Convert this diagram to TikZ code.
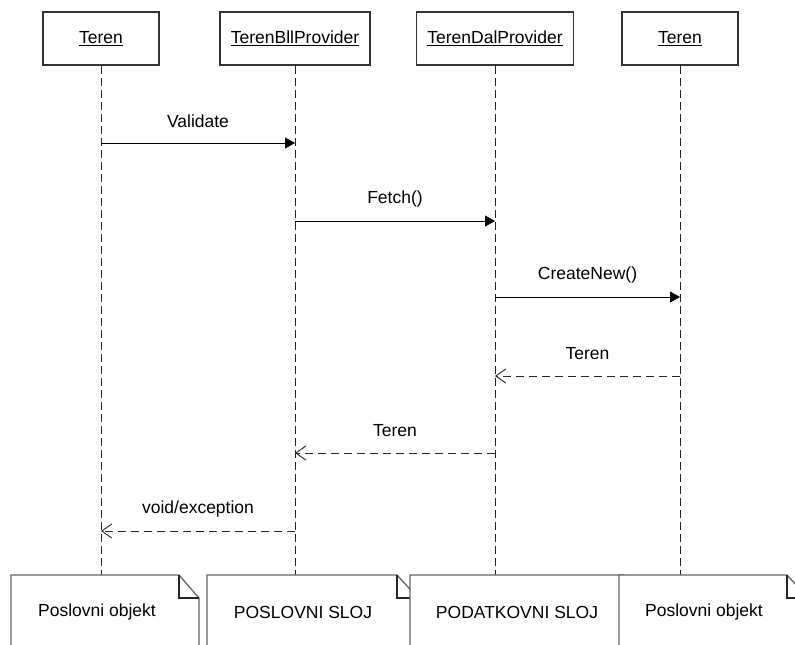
\documentclass[tikz,border=0pt]{standalone}
\usepackage{fontspec}
\setmainfont{Liberation Sans}
\usetikzlibrary{arrows.meta}
\begin{document}
\begin{tikzpicture}[x=1pt,y=-1pt,
  every node/.style={font=\fontsize{17.5}{21}\selectfont},
  objbox/.style={draw=black!80,line width=1.3pt,fill=white,minimum height=53pt,inner sep=0pt},
  lifeline/.style={draw=black!85,line width=0.9pt,dash pattern=on 8pt off 4pt},
  call/.style={draw=black,line width=0.9pt,-{Triangle[length=10pt,width=11pt]}},
  reply/.style={draw=black!85,line width=0.9pt,dash pattern=on 8pt off 5pt,-{Straight Barb[length=10pt,width=14pt]}},
  msg/.style={inner sep=0pt,midway,yshift=22pt},
  note/.style={draw=black!60,line width=1.3pt,fill=white,line join=miter},
  fold/.style={draw=black!85,line width=1.2pt},
  notetext/.style={inner sep=0pt}
]
\useasboundingbox (0,0) rectangle (795,645);
\clip (0,0) rectangle (795,645);

% object heads
\node[objbox,minimum width=116pt] (h1) at (101,38.5) {\underline{Teren}};
\node[objbox,minimum width=150pt] (h2) at (295,38.5) {\underline{TerenBllProvider}};
\node[objbox,minimum width=157pt] (h3) at (495,38.5) {\underline{TerenDalProvider}};
\node[objbox,minimum width=116pt] (h4) at (680,38.5) {\underline{Teren}};

% lifelines
\coordinate (e1) at (101,575);
\coordinate (e2) at (295,575);
\coordinate (e3) at (495,575);
\coordinate (e4) at (680,575);
\draw[lifeline] (h1.south) -- (e1);
\draw[lifeline] (h2.south) -- (e2);
\draw[lifeline] (h3.south) -- (e3);
\draw[lifeline] (h4.south) -- (e4);

% message end points
\coordinate (a1) at (101,143); \coordinate (a2) at (295,143);
\coordinate (b1) at (295,221); \coordinate (b2) at (495,221);
\coordinate (c1) at (495,297); \coordinate (c2) at (680,297);
\coordinate (d1) at (680,376); \coordinate (d2) at (495,376);
\coordinate (f1) at (495,453); \coordinate (f2) at (295,453);
\coordinate (g1) at (295,531); \coordinate (g2) at (101,531);

% calls
\draw[call] (a1) -- (a2) node[msg] (la) {Validate};
\draw[call] (b1) -- (b2) node[msg] (lb) {Fetch()};
\draw[call] (c1) -- (c2) node[msg] (lc) {CreateNew()};
% replies
\draw[reply] (d1) -- (d2) node[msg] (ld) {Teren};
\draw[reply] (f1) -- (f2) node[msg] (lf) {Teren};
\draw[reply] (g1) -- (g2) node[msg] (lg) {void/exception};

% notes
\draw[note] (11,660) -- (11,575) -- (179,575) -- (199,598) -- (199,660);
\draw[fold] (179,575) -- (179,598) -- (199,598);
\node[notetext] (n1) at (97,612) {Poslovni objekt};

\draw[note] (207,660) -- (207,575) -- (397,575) -- (418,598) -- (418,660);
\draw[fold] (397,575) -- (397,598) -- (418,598);
\node[notetext] (n2) at (303,612) {POSLOVNI SLOJ};

\draw[note] (410,660) -- (410,575) -- (624,575) -- (645,598) -- (645,660);
\draw[fold] (624,575) -- (624,598) -- (645,598);
\node[notetext] (n3) at (517,612) {PODATKOVNI SLOJ};

\draw[note] (619,660) -- (619,575) -- (787,575) -- (808,598) -- (808,660);
\draw[fold] (787,575) -- (787,598) -- (808,598);
\node[notetext] (n4) at (704,612) {Poslovni objekt};
\end{tikzpicture}
\end{document}
